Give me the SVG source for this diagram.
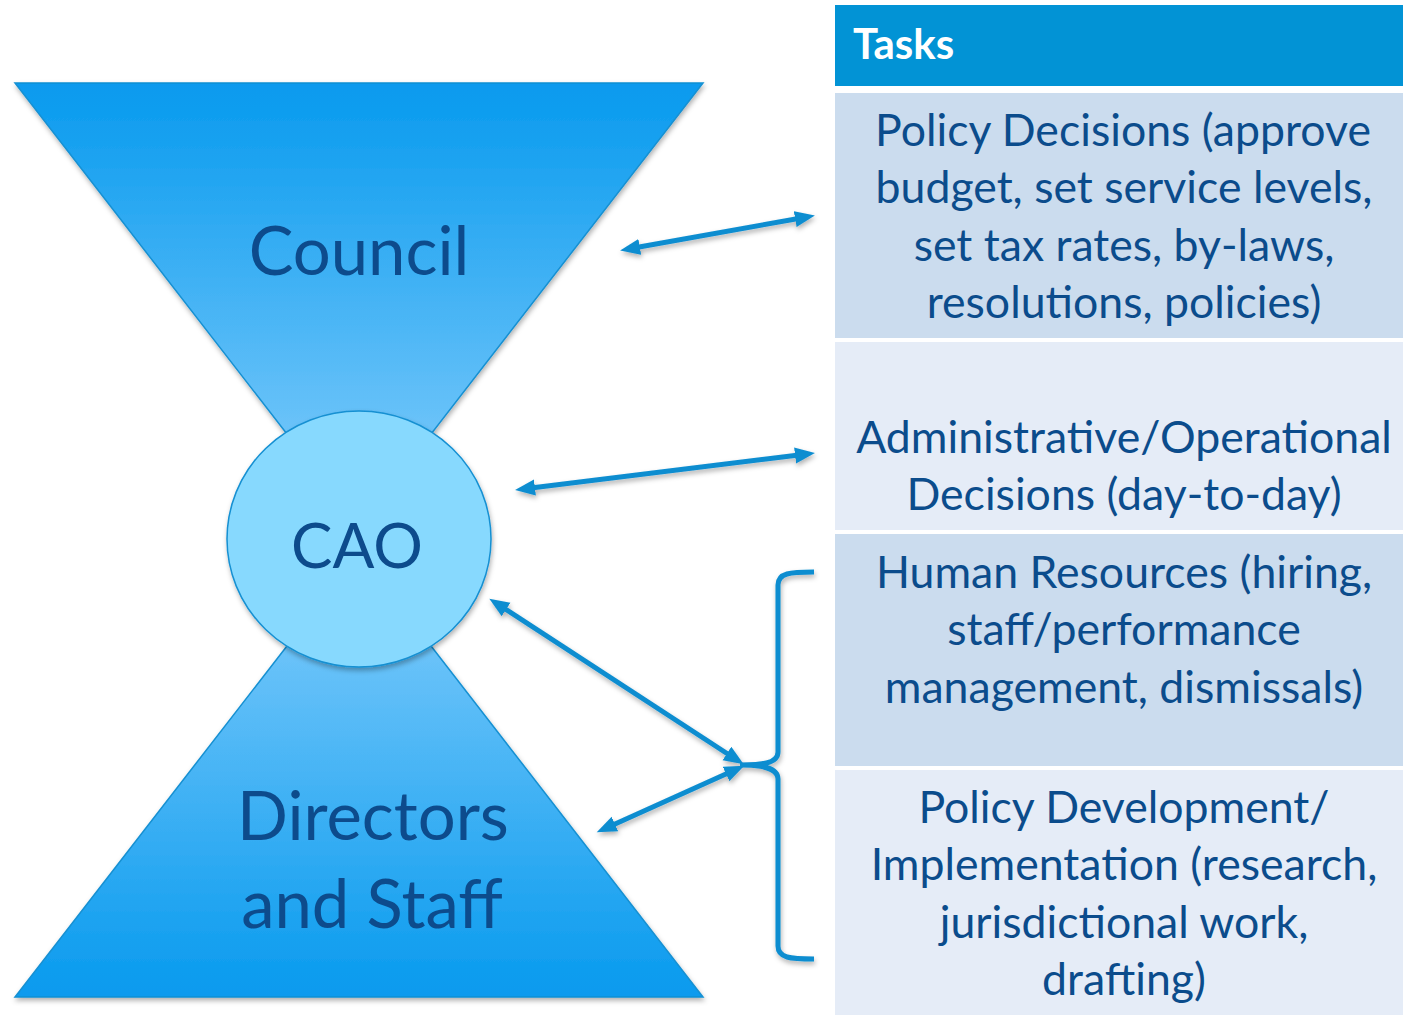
<svg xmlns="http://www.w3.org/2000/svg" width="1403" height="1015" viewBox="0 0 1403 1015">
  <style>
    .label { font-family: Lato, "Open Sans", "Liberation Sans", sans-serif; fill: #0B4C8C; text-anchor: middle; }
    .cell { font-family: Lato, "Open Sans", "Liberation Sans", sans-serif; fill: #0B4C8C; text-anchor: middle; font-size: 44.6px; }
    .head { font-family: Lato, "Open Sans", "Liberation Sans", sans-serif; fill: #FFFFFF; font-weight: bold; font-size: 42px; }
    .shape { stroke: #1590D2; stroke-width: 1.5; }
    .conn { stroke: #0D8DD0; stroke-width: 5; fill: none; }
  </style>
  <defs>
    <linearGradient id="gradDown" x1="0" y1="0" x2="0" y2="1">
      <stop offset="0" stop-color="#079AEE"/>
      <stop offset="1" stop-color="#86CEFC"/>
    </linearGradient>
    <linearGradient id="gradUp" x1="0" y1="0" x2="0" y2="1">
      <stop offset="0" stop-color="#86CEFC"/>
      <stop offset="1" stop-color="#079AEE"/>
    </linearGradient>
    <filter id="shadow" x="-10%" y="-10%" width="120%" height="125%">
      <feDropShadow dx="1" dy="3" stdDeviation="2.5" flood-color="#000000" flood-opacity="0.3"/>
    </filter>
    <marker id="head" markerUnits="userSpaceOnUse" markerWidth="22" markerHeight="18" refX="12" refY="8" orient="auto-start-reverse">
      <path d="M0,0 L20,8 L0,16 Z" fill="#0D8DD0"/>
    </marker>
  </defs>

  <rect width="1403" height="1015" fill="#FFFFFF"/>

  <!-- hourglass -->
  <g id="council" filter="url(#shadow)">
    <polygon class="shape" points="15,83 703,83 359,527" fill="url(#gradDown)"/>
    <text class="label" x="359" y="275" font-size="67">Council</text>
  </g>
  <g id="staff" filter="url(#shadow)">
    <polygon class="shape" points="359,553 703,997 15,997" fill="url(#gradUp)"/>
    <text class="label" x="373" y="840" font-size="67">Directors</text>
    <text class="label" x="372" y="928" font-size="67">and Staff</text>
  </g>
  <g id="cao" filter="url(#shadow)">
    <ellipse class="shape" cx="359" cy="539" rx="132" ry="128" fill="#87D9FE"/>
    <text class="label" x="357" y="568" font-size="62">CAO</text>
  </g>

  <!-- task table -->
  <g id="tasks-header">
    <rect x="835" y="5" width="568" height="81" fill="#0293D5"/>
    <text class="head" x="853" y="59">Tasks</text>
  </g>
  <g id="task-policy">
    <rect x="835" y="93" width="568" height="245" fill="#CBDCEE"/>
    <text class="cell" x="1123" y="146">Policy Decisions (approve</text>
    <text class="cell" x="1124" y="203">budget, set service levels,</text>
    <text class="cell" x="1124" y="261">set tax rates, by-laws,</text>
    <text class="cell" x="1124" y="318">resolutions, policies)</text>
  </g>
  <g id="task-admin">
    <rect x="835" y="342" width="568" height="188" fill="#E5ECF7"/>
    <text class="cell" x="1124" y="453">Administrative/Operational</text>
    <text class="cell" x="1124" y="510">Decisions (day-to-day)</text>
  </g>
  <g id="task-hr">
    <rect x="835" y="534" width="568" height="232" fill="#CBDCEE"/>
    <text class="cell" x="1124" y="588">Human Resources (hiring,</text>
    <text class="cell" x="1124" y="645">staff/performance</text>
    <text class="cell" x="1124" y="703">management, dismissals)</text>
  </g>
  <g id="task-development">
    <rect x="835" y="770" width="568" height="245" fill="#E5ECF7"/>
    <text class="cell" x="1124" y="823">Policy Development/</text>
    <text class="cell" x="1124" y="880">Implementation (research,</text>
    <text class="cell" x="1124" y="938">jurisdictional work,</text>
    <text class="cell" x="1124" y="995">drafting)</text>
  </g>

  <!-- connectors -->
  <g id="connectors" filter="url(#shadow)">
    <line class="conn" x1="628" y1="249" x2="807" y2="217" marker-start="url(#head)" marker-end="url(#head)"/>
    <line class="conn" x1="523" y1="489" x2="807" y2="454" marker-start="url(#head)" marker-end="url(#head)"/>
    <line class="conn" x1="496" y1="603" x2="737" y2="760" marker-start="url(#head)" marker-end="url(#head)"/>
    <line class="conn" x1="604" y1="829" x2="737" y2="769" marker-start="url(#head)" marker-end="url(#head)"/>
    <path class="conn" stroke-width="5.5" d="M814,572 C790,572 778,573 778,585 L778,752 C778,764 760,765 740,765 C760,765 778,767 778,779 L778,946 C778,958 790,959 814,959"/>
  </g>
</svg>
